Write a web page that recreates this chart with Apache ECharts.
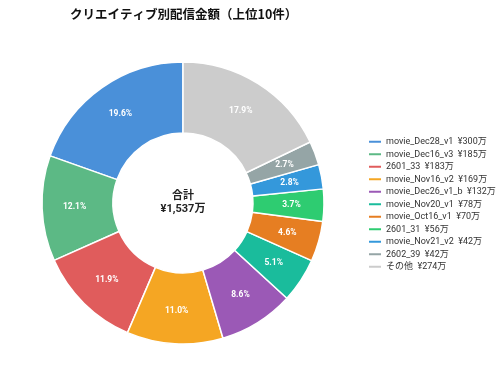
<!DOCTYPE html>
<html lang="ja">
<head>
    <meta charset="utf-8"/>
    <title>クリエイティブ別配信金額</title>
    <script src="https://cdn.jsdelivr.net/npm/echarts@6.0.0/dist/echarts.min.js"></script>
    <style>
        html, body { margin: 0; height: 100%; background: #fff; }
        #chart { width: 500px; height: 386px; }
    </style>
</head>
<body>
<div id="chart"></div>
<script>
    // 単位: 万円
    const names = ["movie_Dec28_v1", "movie_Dec16_v3", "2601_33", "movie_Nov16_v2", "movie_Dec26_v1_b",
        "movie_Nov20_v1", "movie_Oct16_v1", "2601_31", "movie_Nov21_v2", "2602_39", "その他"];
    const values = [300.9, 185.9, 183.0, 169.3, 132.4, 78.5, 70.7, 56.9, 42.9, 42.0, 274.9];
    const colors = ["#4A90D9", "#5CB985", "#E05C5C", "#F5A623", "#9B59B6", "#1ABC9C",
        "#E67E22", "#2ECC71", "#3498DB", "#95A5A6", "#CCCCCC"];

    const total = values.reduce((a, b) => a + b, 0);
    const fmt = v => "¥" + Math.floor(v).toLocaleString("en-US") + "万";
    const font = "Roboto, 'Noto Sans CJK JP', sans-serif";

    const chart = echarts.init(document.getElementById("chart"));
    chart.setOption({
        animation: false,
        color: colors,
        textStyle: {fontFamily: font},
        title: {
            text: "クリエイティブ別配信金額（上位10件）",
            left: 65,
            top: 3,
            textStyle: {fontSize: 12.5, fontWeight: "bold", color: "#111", fontFamily: "'Noto Sans CJK JP', sans-serif"}
        },
        legend: {
            orient: "vertical",
            left: 362,
            top: 131,
            itemWidth: 14,
            itemHeight: 4,
            itemGap: 1,
            icon: "rect",
            textStyle: {fontSize: 9, color: "#333", lineHeight: 11.5, fontFamily: font, padding: [0, 0, 0, -1]},
            formatter: name => name + "  " + fmt(values[names.indexOf(name)])
        },
        graphic: [{
            type: "text",
            x: 183,
            y: 203,
            style: {
                text: "合計\n" + "¥" + Math.round(total).toLocaleString("en-US") + "万",
                align: "center",
                verticalAlign: "middle",
                lineHeight: 13,
                fill: "#222",
                font: "bold 11px " + font
            }
        }],
        series: [{
            type: "pie",
            center: [183, 203],
            radius: [70, 141],
            startAngle: 90,
            clockwise: false,
            itemStyle: {borderColor: "#fff", borderWidth: 1.5},
            label: {
                show: true,
                position: "inside",
                color: "#fff",
                fontSize: 8.5,
                fontWeight: "bold",
                fontFamily: font,
                formatter: p => (p.value / total * 100).toFixed(1) + "%"
            },
            labelLine: {show: false},
            data: names.map((n, i) => ({name: n, value: values[i]}))
        }]
    });
</script>
</body>
</html>
